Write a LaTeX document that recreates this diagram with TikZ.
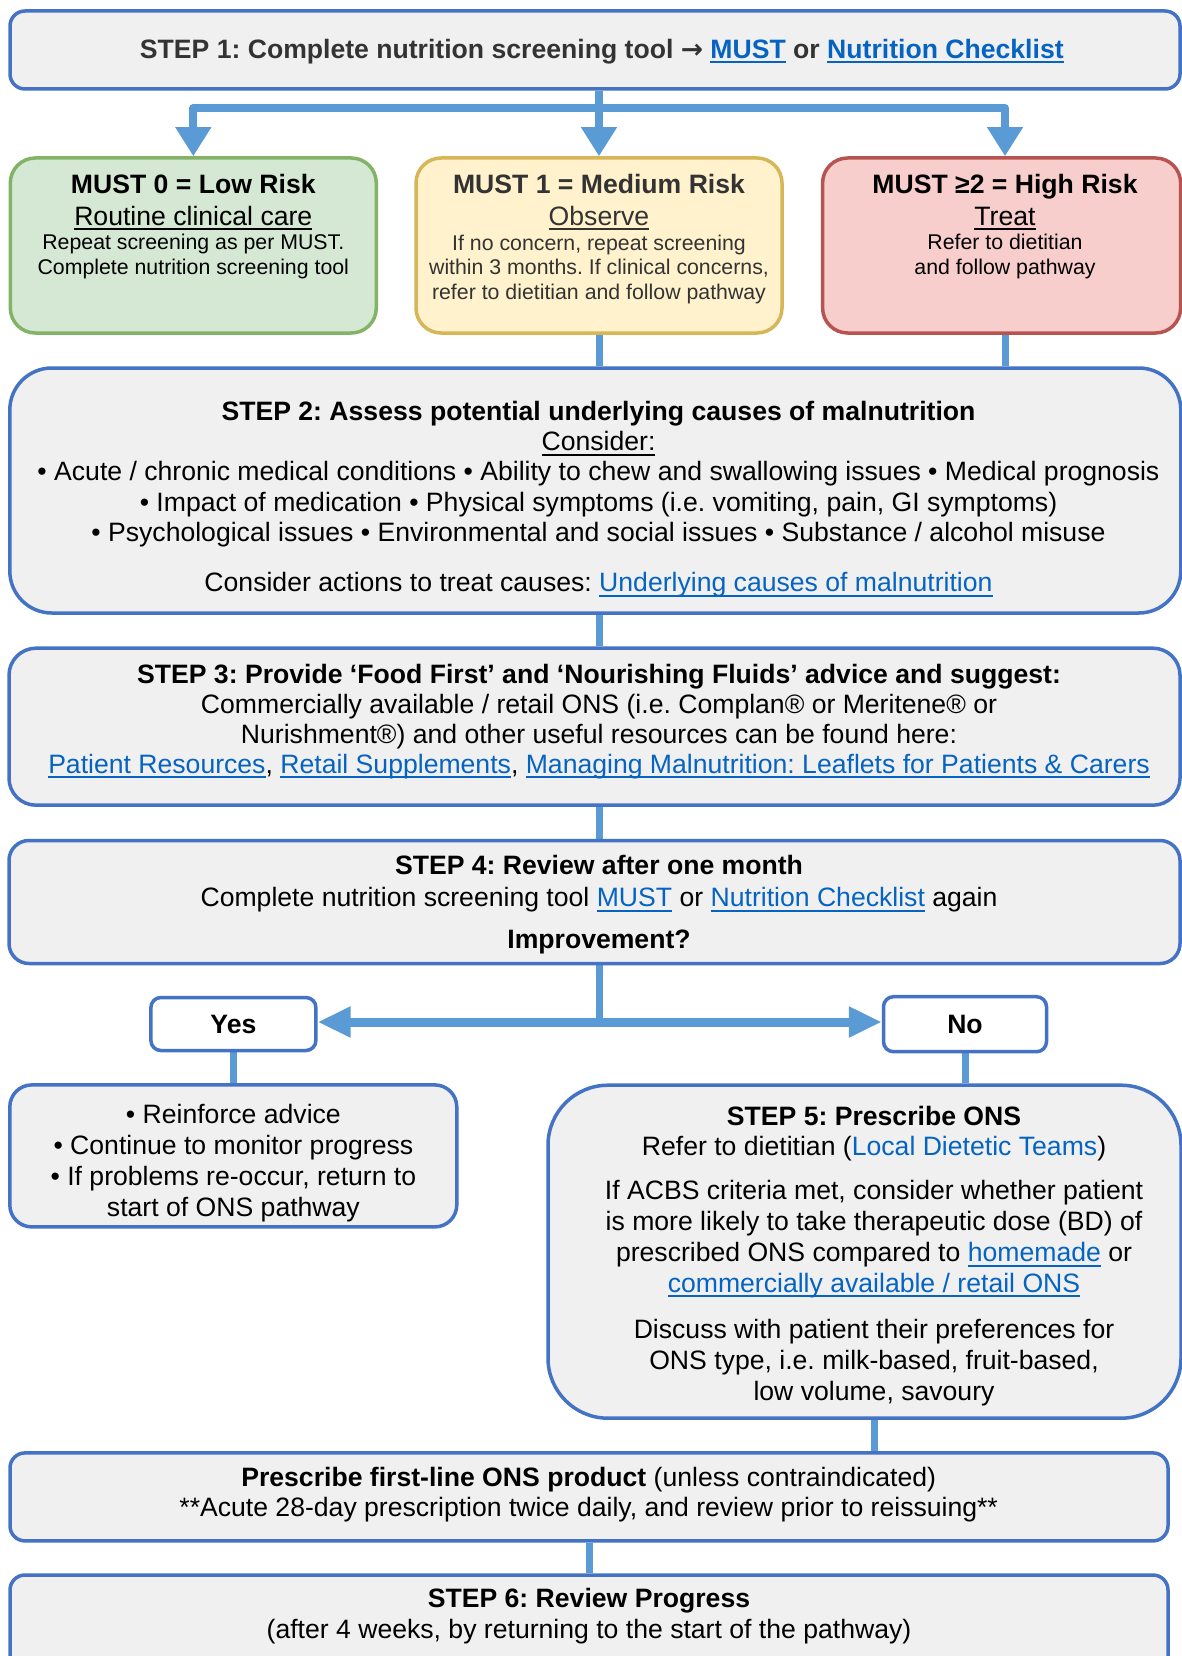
\documentclass[tikz,border=0pt]{standalone}
\usepackage{fontspec}
\setmainfont{Liberation Sans}
\newfontfamily\arrowfont{DejaVu Sans}
\usetikzlibrary{arrows.meta}
\frenchspacing

\definecolor{boxfill}{HTML}{F0F0F0}
\definecolor{boxline}{HTML}{4472C4}
\definecolor{flowline}{HTML}{5B9BD5}
\definecolor{linkblue}{HTML}{0563C1}
\definecolor{darktext}{HTML}{333333}
\definecolor{lowfill}{HTML}{D5E8D4}
\definecolor{lowline}{HTML}{82B366}
\definecolor{medfill}{HTML}{FFF2CC}
\definecolor{medline}{HTML}{D6B656}
\definecolor{highfill}{HTML}{F8CECC}
\definecolor{highline}{HTML}{B85450}

% text sizes
\newcommand\fsMain{\fontsize{26.6}{30.4}\selectfont}
\newcommand\fsHead{\fontsize{26.6}{32}\selectfont}
\newcommand\fsWide{\fontsize{26.6}{30.8}\selectfont}
\newcommand\fsRisk{\fontsize{21.3}{24.5}\selectfont}
% underline at a fixed depth below the baseline
\newsavebox\ulinebox
\newcommand\undl[1]{\leavevmode\sbox\ulinebox{#1}\rlap{\rule[-5pt]{\wd\ulinebox}{2pt}}\usebox\ulinebox}
% hyperlink look
\newcommand\lnk[1]{{\color{linkblue}\undl{#1}}}
\newcommand\lnkplain[1]{{\color{linkblue}#1}}

\pgfdeclarelayer{bg}
\pgfsetlayers{bg,main}

\tikzset{
  stepbox/.style={draw=boxline, line width=3.5pt, fill=boxfill, inner sep=0pt},
  riskbox/.style={line width=3.5pt, rounded corners=25pt, inner sep=0pt,
                  minimum width=366pt, minimum height=175pt},
  answerbox/.style={draw=boxline, line width=3.5pt, fill=white, rounded corners=10pt,
                    inner sep=0pt, font=\fsMain\bfseries},
  % multi-line texts are placed by the baseline of their last line
  txt/.style={inner sep=0pt, align=center, anchor=base},
  conn/.style={draw=flowline, line width=7pt},
  forkline/.style={draw=flowline, line width=8pt, line join=round},
  splitline/.style={draw=flowline, line width=9pt},
  bigtip/.style={-{Triangle[width=34pt,length=29pt]}},
  sidetip/.style={-{Triangle[width=29pt,length=33pt]}},
}

\begin{document}
\begin{tikzpicture}[x=1pt, y=-1pt]
\useasboundingbox (0,0) rectangle (1182,1656);
\clip (0,0) rectangle (1182,1656);
\begin{pgfonlayer}{bg}
  \fill[white] (0,0) rectangle (1182,1656);
\end{pgfonlayer}

% ---- boxes ----
\node[stepbox, rounded corners=15pt, minimum width=1170pt, minimum height=78pt] (s1) at (595,50) {};

\node[riskbox, draw=lowline, fill=lowfill] (lowr) at (193.3,245.5) {};
\node[riskbox, draw=medline, fill=medfill] (medr) at (599,245.5) {};
\node[riskbox, draw=highline, fill=highfill, minimum width=358pt] (highr) at (1001.6,245.5) {};

\node[stepbox, rounded corners=42pt, minimum width=1171pt, minimum height=245pt] (s2) at (595.3,490.5) {};
\node[stepbox, rounded corners=27pt, minimum width=1171pt, minimum height=157pt] (s3) at (594.5,726.7) {};
\node[stepbox, rounded corners=20pt, minimum width=1171pt, minimum height=123pt] (s4) at (594.5,902) {};

\node[answerbox, minimum width=165pt, minimum height=53pt] (yes) at (233.4,1024) {Yes};
\node[answerbox, minimum width=163pt, minimum height=55pt] (no) at (965,1024.2) {No};

\node[stepbox, rounded corners=22pt, minimum width=447pt, minimum height=142pt] (yesbox) at (233.3,1155.9) {};
\node[stepbox, rounded corners=60pt, minimum width=633pt, minimum height=333pt] (s5) at (864.5,1251.7) {};
\node[stepbox, rounded corners=15pt, minimum width=1158pt, minimum height=88pt] (firstline) at (589,1496.9) {};
\node[stepbox, rounded corners=15pt, minimum width=1158pt, minimum height=115pt] (s6) at (589,1632.5) {};

% ---- texts ----
\node[txt, text=darktext, font=\fsMain\bfseries] (s1txt) at (601.8,58.3)
  {STEP 1: Complete nutrition screening tool {\arrowfont\bfseries →} \lnk{MUST} or \lnk{Nutrition Checklist}};

\node[txt, font=\fsHead] (lowhead) at (193.3,225)
  {\textbf{MUST 0 = Low Risk}\\ \undl{Routine clinical care}};
\node[txt, font=\fsRisk] (lowbody) at (193.3,274)
  {Repeat screening as per MUST.\\ Complete nutrition screening tool};

\node[txt, text=darktext, font=\fsHead] (medhead) at (599,225)
  {\textbf{MUST 1 = Medium Risk}\\ \undl{Observe}};
\node[txt, text=darktext, font=\fsRisk] (medbody) at (599,299)
  {If no concern, repeat screening\\ within 3 months. If clinical concerns,\\ refer to dietitian and follow pathway};

\node[txt, font=\fsHead] (highhead) at (1005,225)
  {\textbf{MUST ≥2 = High Risk}\\ \undl{Treat}};
\node[txt, font=\fsRisk] (highbody) at (1005,274)
  {Refer to dietitian\\ and follow pathway};

\node[txt, font=\fsMain] (s2txt) at (598.5,541.7)
  {\textbf{STEP 2: Assess potential underlying causes of malnutrition}\\
   \undl{Consider:}\\
   • Acute / chronic medical conditions • Ability to chew and swallowing issues • Medical prognosis\\
   • Impact of medication • Physical symptoms (i.e. vomiting, pain, GI symptoms)\\
   • Psychological issues • Environmental and social issues • Substance / alcohol misuse};
\node[txt, font=\fsMain] (s2act) at (598.5,591.7)
  {Consider actions to treat causes: \lnk{Underlying causes of malnutrition}};

\node[txt, font=\fontsize{26.6}{30}\selectfont] (s3txt) at (599,773.3)
  {\textbf{STEP 3: Provide ‘Food First’ and ‘Nourishing Fluids’ advice and suggest:}\\
   Commercially available / retail ONS (i.e. Complan® or Meritene® or\\
   Nurishment®) and other useful resources can be found here:\\
   \lnk{Patient Resources}, \lnk{Retail Supplements}, \lnk{Managing Malnutrition: Leaflets for Patients \& Carers}};

\node[txt, font=\fsHead] (s4txt) at (599,906.7)
  {\textbf{STEP 4: Review after one month}\\
   Complete nutrition screening tool \lnk{MUST} or \lnk{Nutrition Checklist} again};
\node[txt, font=\fsMain\bfseries] (s4q) at (599,948.3) {Improvement?};

\node[txt, font=\fontsize{26.6}{31}\selectfont] (yestxt) at (233.4,1216.5)
  {• Reinforce advice\\ • Continue to monitor progress\\ • If problems re-occur, return to\\ start of ONS pathway};

\node[txt, font=\fontsize{26.6}{30}\selectfont] (s5head) at (874,1155)
  {\textbf{STEP 5: Prescribe ONS}\\ Refer to dietitian (\lnkplain{Local Dietetic Teams})};
\node[txt, font=\fsWide] (s5mid) at (874,1292.3)
  {If ACBS criteria met, consider whether patient\\
   is more likely to take therapeutic dose (BD) of\\
   prescribed ONS compared to \lnk{homemade} or\\
   \lnk{commercially available / retail ONS}};
\node[txt, font=\fsWide] (s5end) at (874,1400)
  {Discuss with patient their preferences for\\
   ONS type, i.e. milk-based, fruit-based,\\
   low volume, savoury};

\node[txt, font=\fontsize{26.6}{30.7}\selectfont] (firsttxt) at (588.7,1516.7)
  {\textbf{Prescribe first-line ONS product} (unless contraindicated)\\
   **Acute 28-day prescription twice daily, and review prior to reissuing**};

\node[txt, font=\fsMain] (s6txt) at (589,1638.3)
  {\textbf{STEP 6: Review Progress}\\ (after 4 weeks, by returning to the start of the pathway)};

% ---- connectors ----
\coordinate (fork) at (599,108);
\coordinate (split) at (599,1022);
\begin{pgfonlayer}{bg}
  \draw[forkline] (s1.south -| fork) -- (fork);
  \draw[forkline, bigtip] (fork) -- (medr.north);
  \draw[forkline, bigtip] (fork) -| (lowr.north);
  \draw[forkline, bigtip] (fork) -| (highhead |- highr.north);

  \draw[conn] (medr.south) -- (medr.south |- s2.north);
  \draw[conn] (highhead |- highr.south) -- (highhead |- s2.north);
  \draw[conn] (s2.south -| fork) -- (s3.north -| fork);
  \draw[conn] (s3.south -| fork) -- (s4.north -| fork);
  \draw[conn] (s4.south -| fork) -- (split);
  \draw[splitline, sidetip] (split) -- (split -| yes.east);
  \draw[splitline, sidetip] (split) -- (split -| no.west);
  \draw[conn] (yes.south) -- (yes.south |- yesbox.north);
  \draw[conn] (no.south) -- (no.south |- s5.north);
  \draw[conn] (s5head |- s5.south) -- (s5head |- firstline.north);
  \draw[conn] (firstline.south) -- (s6.north);
\end{pgfonlayer}
\end{tikzpicture}
\end{document}
